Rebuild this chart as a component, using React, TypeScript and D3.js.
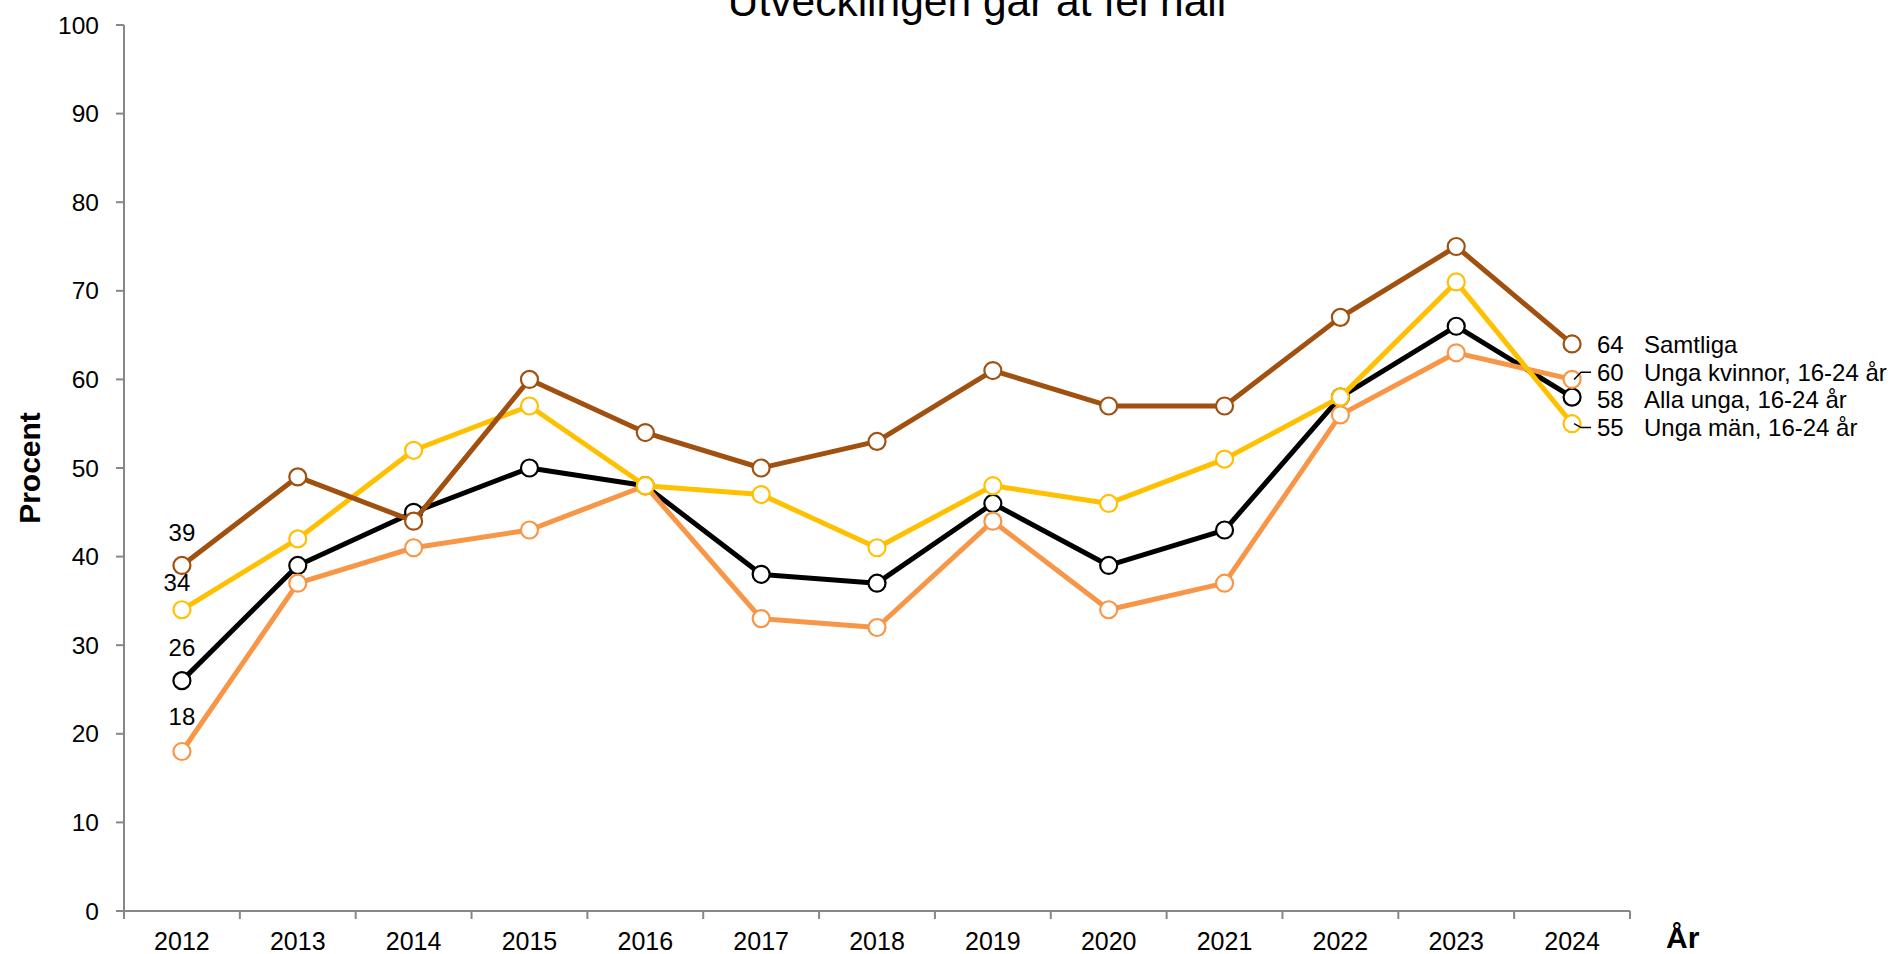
import React from "react";
import * as d3 from "d3";

const years = ["2012","2013","2014","2015","2016","2017","2018","2019","2020","2021","2022","2023","2024"];
const samtliga = [39,49,44,60,54,50,53,61,57,57,67,75,64];
const ungaMan = [34,42,52,57,48,47,41,48,46,51,58,71,55];
const allaUnga = [26,39,45,50,48,38,37,46,39,43,58,66,58];
const ungaKvinnor = [18,37,41,43,48,33,32,44,34,37,56,63,60];
const yTicks = [0,10,20,30,40,50,60,70,80,90,100];

const seriesNames = ["Alla unga, 16-24 år","Unga kvinnor, 16-24 år","Unga män, 16-24 år","Samtliga"];
const seriesValues = [allaUnga, ungaKvinnor, ungaMan, samtliga];
const seriesColors = ["#000000","#F79646","#FFC000","#A0500F"];
// first-point label nudges (styling only)
const firstLabelNudge = [{dx:0,dy:-33},{dx:0,dy:-35},{dx:-5,dy:-27},{dx:0,dy:-33}];

const title = "Utvecklingen går åt fel håll";
const yTitle = "Procent";
const xTitle = "År";

const W = 1892, H = 954;
const M = { left: 124, right: 1630, top: 25, bottom: 911 };
const FONT = "'Liberation Sans', Arial, sans-serif";

export default function App() {
  const x = d3.scaleBand<string>().domain(years).range([M.left, M.right]).padding(0);
  const y = d3.scaleLinear().domain([0, 100]).range([M.bottom, M.top]);
  const cx = (i: number) => (x(years[i]) as number) + x.bandwidth() / 2;
  const line = d3.line<number>().x((_, i) => cx(i)).y((v) => y(v)).curve(d3.curveLinear);
  const axisColor = "#878787";
  const last = years.length - 1;

  // right-side labels: spread evenly around the mean if crowded
  const spacing = 27.7;
  const entries = seriesValues.map((vals, k) => ({ k, v: vals[last], py: y(vals[last]) }))
    .sort((a, b) => a.py - b.py);
  const meanY = d3.mean(entries, (e) => e.py) as number;
  const n = entries.length;
  const labelYs = entries.map((e, i) => ({ ...e, ly: meanY + (i - (n - 1) / 2) * spacing }));

  const lastX = cx(last);
  const valueX = 1597;
  const nameX = 1644;

  return (
    <svg width={W} height={H} style={{ position: "absolute", left: 0, top: 0, background: "#fff" }} fontFamily={FONT}>
      <rect x={0} y={0} width={W} height={H} fill="#fff" />
      <text x={977} y={16} textAnchor="middle" fontSize={42.5} fill="#000">{title}</text>

      {/* y axis */}
      <line x1={M.left} x2={M.left} y1={M.top} y2={M.bottom} stroke={axisColor} strokeWidth={2} />
      {yTicks.map((t) => (
        <g key={t}>
          <line x1={M.left - 8} x2={M.left} y1={y(t)} y2={y(t)} stroke={axisColor} strokeWidth={2} />
          <text x={99} y={y(t) + 8.5} textAnchor="end" fontSize={24.5} fill="#000">{t}</text>
        </g>
      ))}
      {/* x axis */}
      <line x1={M.left - 8} x2={M.right} y1={M.bottom} y2={M.bottom} stroke={axisColor} strokeWidth={2} />
      {years.map((yr, i) => (
        <line key={"t" + yr} x1={x(yr) as number} x2={x(yr) as number} y1={M.bottom} y2={M.bottom + 8} stroke={axisColor} strokeWidth={2} />
      ))}
      <line x1={M.right} x2={M.right} y1={M.bottom} y2={M.bottom + 8} stroke={axisColor} strokeWidth={2} />
      {years.map((yr, i) => (
        <text key={"l" + yr} x={cx(i)} y={950} textAnchor="middle" fontSize={25} fill="#000">{yr}</text>
      ))}

      <text transform={`translate(40,468) rotate(-90)`} textAnchor="middle" fontSize={30} fontWeight="bold" fill="#000">{yTitle}</text>
      <text x={1666} y={948} fontSize={30} fontWeight="bold" fill="#000">{xTitle}</text>

      {/* series */}
      {seriesValues.map((vals, k) => (
        <g key={"s" + k}>
          <path d={line(vals) as string} fill="none" stroke={seriesColors[k]} strokeWidth={5} strokeLinejoin="round" />
          {vals.map((v, i) => (
            <circle key={i} cx={cx(i)} cy={y(v)} r={8.5} fill="#fff" stroke={seriesColors[k]} strokeWidth={2.2} />
          ))}
        </g>
      ))}

      {/* first value labels */}
      {seriesValues.map((vals, k) => (
        <text key={"f" + k} x={cx(0) + firstLabelNudge[k].dx} y={y(vals[0]) + firstLabelNudge[k].dy + 8.5}
          textAnchor="middle" fontSize={24} fill="#000">{vals[0]}</text>
      ))}

      {/* last value labels with leaders */}
      {labelYs.map((e) => (
        <g key={"r" + e.k}>
          {Math.abs(e.ly - e.py) > 3 && (
            <polyline points={`${lastX + 2},${e.py} ${lastX + 9},${e.ly} ${lastX + 19},${e.ly}`} fill="none" stroke="#000" strokeWidth={1.5} />
          )}
          <text x={valueX} y={e.ly + 8.5} fontSize={24} fill="#000">{e.v}</text>
          <text x={nameX} y={e.ly + 8.5} fontSize={24} fill="#000">{seriesNames[e.k]}</text>
        </g>
      ))}
    </svg>
  );
}
